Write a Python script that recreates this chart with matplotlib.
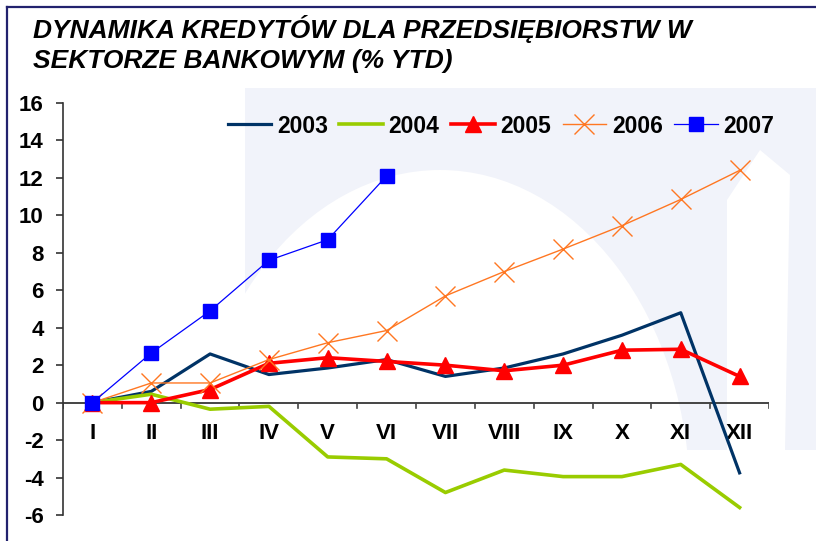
import matplotlib
matplotlib.use("Agg")
import matplotlib.pyplot as plt
from matplotlib.patches import Ellipse, Rectangle, Polygon

months = ["I", "II", "III", "IV", "V", "VI", "VII", "VIII", "IX", "X", "XI", "XII"]
y2003 = [0, 0.6, 2.6, 1.5, 1.85, 2.3, 1.4, 1.85, 2.6, 3.6, 4.8, -3.75]
y2004 = [0, 0.45, -0.35, -0.2, -2.9, -3.0, -4.8, -3.6, -3.95, -3.95, -3.3, -5.6]
y2005 = [0, 0, 0.7, 2.1, 2.4, 2.2, 2.0, 1.7, 2.0, 2.8, 2.85, 1.4]
y2006 = [0, 1.05, 1.05, 2.3, 3.2, 3.85, 5.7, 7.0, 8.2, 9.45, 10.85, 12.4]
y2007 = [0, 2.65, 4.9, 7.6, 8.7, 12.1]
yticks = list(range(-6, 17, 2))

plt.rcParams["font.family"] = ["Liberation Sans", "DejaVu Sans"]
plt.rcParams["font.weight"] = "bold"
plt.rcParams["axes.unicode_minus"] = False

W, H = 816, 541
fig = plt.figure(figsize=(W / 100, H / 100), dpi=100)
fig.patch.set_facecolor("white")


def fx(x):
    return x / W


def fy(y):
    return 1 - y / H


# background layer in pixel units (y grows downward)
bg = fig.add_axes([0, 0, 1, 1], zorder=0)
bg.set_xlim(0, W)
bg.set_ylim(H, 0)
bg.axis("off")

# faint logo
light = "#F1F3FA"
bg.add_patch(Rectangle((245, 88), W - 245, 450 - 88, color=light, lw=0))
bg.add_patch(Ellipse((440, 500), 500, 660, color="white", lw=0))
bg.add_patch(Polygon([(727, 450), (727, 200), (760, 150), (790, 175), (785, 450)],
                     color="white", lw=0))

# frame
bg.plot([7, 7], [7, H], color="#22226E", lw=1.6)
bg.plot([7, W], [7, 7], color="#22226E", lw=1.6)

ax = fig.add_axes([fx(63), fy(515), fx(769 - 63), (515 - 103) / H], zorder=1)
ax.patch.set_alpha(0)

x = list(range(len(months)))
ax.plot(x, y2003, color="#003366", lw=2.3, label="2003")
ax.plot(x, y2004, color="#99CC00", lw=2.6, label="2004")
ax.plot(x, y2005, color="#FF0000", lw=2.6, marker="^", ms=11, label="2005")
ax.plot(x, y2006, color="#FF7722", lw=1.0, marker="x", ms=14, mew=1.0, label="2006")
ax.plot(x[:len(y2007)], y2007, color="#0000FF", lw=0.9, marker="s", ms=10, label="2007")

ax.set_xlim(-0.5, 11.5)
ax.set_ylim(-6, 16)
ax.set_yticks(yticks)
ax.tick_params(axis="y", direction="out", length=5, width=1.2, pad=9,
               labelsize=16, color="#333333")
for s in ["top", "right", "bottom"]:
    ax.spines[s].set_visible(False)
ax.spines["left"].set_color("#333333")
ax.spines["left"].set_linewidth(1.2)
ax.set_xticks([])

# category axis crossing at zero
ax.axhline(0, color="#444444", lw=1.4, zorder=1)
for b in range(13):
    ax.plot([b - 0.5, b - 0.5], [0, -0.27], color="#444444", lw=1.2, zorder=1)
for i, m in enumerate(months):
    ax.text(i, -1.65, m, ha="center", va="center", fontsize=16,
            fontweight="bold", zorder=1)

fig.text(fx(33), fy(29), "DYNAMIKA KREDYTÓW DLA PRZEDSIĘBIORSTW W",
         fontsize=19, fontweight="bold", style="italic", va="center", ha="left")
fig.text(fx(33), fy(61), "SEKTORZE BANKOWYM (% YTD)",
         fontsize=19, fontweight="bold", style="italic", va="center", ha="left")

ax.legend(loc="center", bbox_to_anchor=(fx(501), fy(126)), bbox_transform=fig.transFigure,
          ncol=5, frameon=False, fontsize=16.5, handlelength=1.9, handletextpad=0.25,
          columnspacing=0.5, borderpad=0)

fig.savefig("out.png", dpi=100)
